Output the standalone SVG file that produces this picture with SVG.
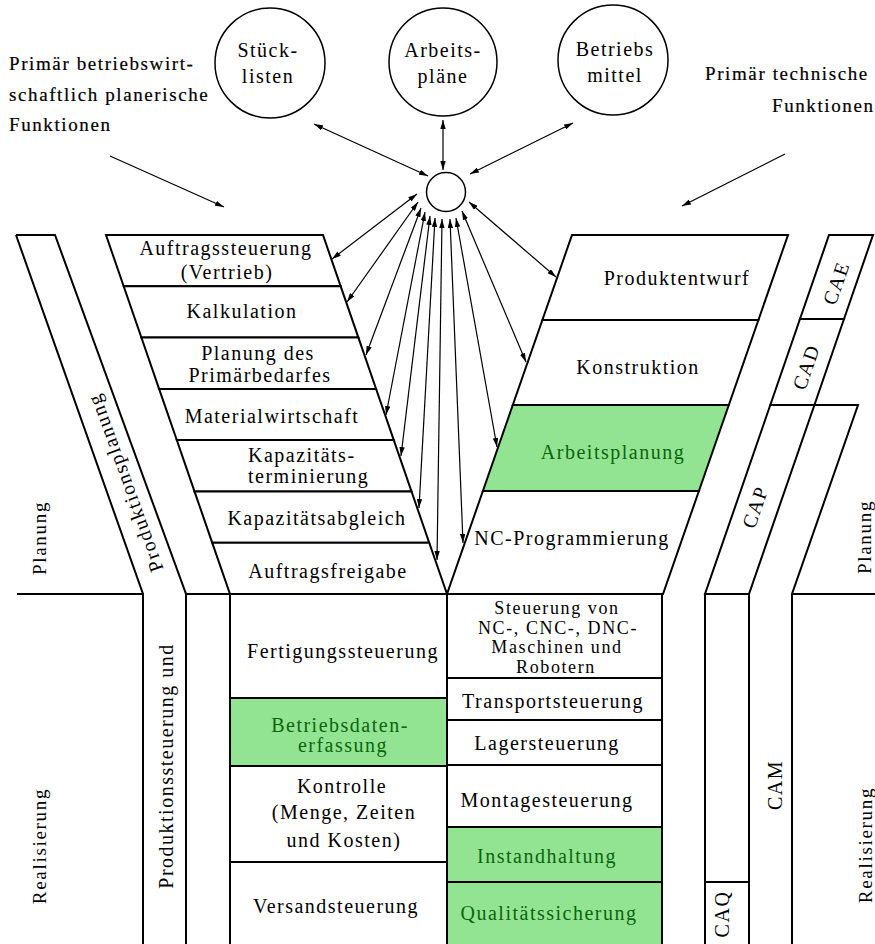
<svg xmlns="http://www.w3.org/2000/svg" width="875" height="944" viewBox="0 0 875 944">
  <style>
    .box { fill: #ffffff; stroke: #000; stroke-width: 2; }
    .grn { fill: #92e492; stroke: #000; stroke-width: 2; }
    .ln { fill: none; stroke: #000; stroke-width: 2; }
    .circ { fill: #ffffff; stroke: #000; stroke-width: 1.5; }
    .arr { fill: none; stroke: #000; stroke-width: 1.2; marker-end: url(#ah); }
    .dbl { fill: none; stroke: #000; stroke-width: 1.2; marker-start: url(#ah); marker-end: url(#ah); }
    text { font-family: "Liberation Serif", "Times New Roman", serif; font-size: 20px; letter-spacing: 1.5px; fill: #000; text-anchor: middle; }
    .g { fill: #0b650b; }
    .hd { font-size: 19px; letter-spacing: 1.6px; stroke: #000; stroke-width: 0.2; }
    .side { font-size: 19px; letter-spacing: 1.7px; }
    .sm { font-size: 18px; letter-spacing: 1.6px; }
    .st { text-anchor: start; }
    .en { text-anchor: end; }
  </style>
  <defs>
    <marker id="ah" viewBox="0 0 10 6" refX="10" refY="3" markerWidth="9" markerHeight="5.4" orient="auto-start-reverse" markerUnits="userSpaceOnUse">
      <path d="M0,0 L10,3 L0,6 z" fill="#000"/>
    </marker>
  </defs>
  <rect width="875" height="944" fill="#ffffff"/>

  <!-- header captions -->
  <g id="caption-left">
    <text class="hd st" x="9" y="70">Primär betriebswirt-</text>
    <text class="hd st" x="9" y="101">schaftlich planerische</text>
    <text class="hd st" x="9" y="131">Funktionen</text>
  </g>
  <g id="caption-right">
    <text class="hd st" x="705" y="80">Primär technische</text>
    <text class="hd st" x="772" y="112">Funktionen</text>
  </g>

  <!-- data stores -->
  <g id="stuecklisten">
    <circle class="circ" cx="270" cy="63" r="55"/>
    <text x="268" y="57">Stück-</text>
    <text x="268" y="83">listen</text>
  </g>
  <g id="arbeitsplaene">
    <circle class="circ" cx="443" cy="62" r="54"/>
    <text x="443" y="57">Arbeits-</text>
    <text x="443" y="83">pläne</text>
  </g>
  <g id="betriebsmittel">
    <circle class="circ" cx="613" cy="60" r="55"/>
    <text x="615" y="56">Betriebs</text>
    <text x="615" y="82">mittel</text>
  </g>
  <g id="hub">
    <circle class="circ" cx="446" cy="192" r="19.5"/>
  </g>

  <!-- connectors -->
  <g id="connectors">
    <line class="arr" x1="110" y1="156" x2="224" y2="207"/>
    <line class="arr" x1="785" y1="154" x2="682" y2="206"/>
    <line class="dbl" x1="314" y1="124" x2="428" y2="176"/>
    <line class="dbl" x1="443" y1="120" x2="443" y2="170"/>
    <line class="dbl" x1="573" y1="123" x2="470" y2="174"/>
    <line class="dbl" x1="417" y1="194" x2="332" y2="259"/>
    <line class="dbl" x1="418" y1="202" x2="347" y2="302"/>
    <line class="dbl" x1="421" y1="208" x2="366" y2="355"/>
    <line class="dbl" x1="425" y1="212" x2="386" y2="415"/>
    <line class="dbl" x1="430" y1="216" x2="401" y2="456"/>
    <line class="dbl" x1="435" y1="218" x2="419" y2="508"/>
    <line class="dbl" x1="442" y1="219" x2="437" y2="560"/>
    <line class="dbl" x1="450" y1="219" x2="463" y2="543"/>
    <line class="dbl" x1="456" y1="218" x2="497" y2="447"/>
    <line class="dbl" x1="462" y1="211" x2="526" y2="362"/>
    <line class="dbl" x1="469" y1="202" x2="556" y2="277"/>
  </g>

  <!-- production planning (left branch) -->
  <g id="auftragssteuerung">
    <polygon class="box" points="106,235 323,235 340.7,286.3 123.7,286.3"/>
    <text x="226" y="255">Auftragssteuerung</text>
    <text x="227" y="279">(Vertrieb)</text>
  </g>
  <g id="kalkulation">
    <polygon class="box" points="123.7,286.3 340.7,286.3 358.4,337.6 141.4,337.6"/>
    <text x="242" y="318">Kalkulation</text>
  </g>
  <g id="primaerbedarf">
    <polygon class="box" points="141.4,337.6 358.4,337.6 376.1,388.9 159.1,388.9"/>
    <text x="258" y="360">Planung des</text>
    <text x="260" y="382">Primärbedarfes</text>
  </g>
  <g id="materialwirtschaft">
    <polygon class="box" points="159.1,388.9 376.1,388.9 393.8,440.1 176.8,440.1"/>
    <text x="272" y="423">Materialwirtschaft</text>
  </g>
  <g id="kapazitaetsterminierung">
    <polygon class="box" points="176.8,440.1 393.8,440.1 411.5,491.4 194.5,491.4"/>
    <text class="st" x="248" y="462">Kapazitäts-</text>
    <text class="st" x="248" y="483">terminierung</text>
  </g>
  <g id="kapazitaetsabgleich">
    <polygon class="box" points="194.5,491.4 411.5,491.4 429.2,542.7 212.2,542.7"/>
    <text x="317" y="525">Kapazitätsabgleich</text>
  </g>
  <g id="auftragsfreigabe">
    <polygon class="box" points="212.2,542.7 429.2,542.7 447,594 230,594"/>
    <text x="328" y="578">Auftragsfreigabe</text>
  </g>

  <!-- technical planning (right branch) -->
  <g id="produktentwurf">
    <polygon class="box" points="572,235 788,235 758.4,320 542.4,320"/>
    <text x="677" y="285">Produktentwurf</text>
  </g>
  <g id="konstruktion">
    <polygon class="box" points="542.4,320 758.4,320 728.8,405 512.8,405"/>
    <text x="638" y="374">Konstruktion</text>
  </g>
  <g id="arbeitsplanung">
    <polygon class="grn" points="512.8,405 728.8,405 698.9,491 482.9,491"/>
    <text class="g" x="613" y="459">Arbeitsplanung</text>
  </g>
  <g id="nc-programmierung">
    <polygon class="box" points="482.9,491 698.9,491 663,594 447,594"/>
    <text x="572" y="545">NC-Programmierung</text>
  </g>

  <!-- realisation, left column -->
  <g id="fertigungssteuerung">
    <rect class="box" x="230" y="594" width="217" height="104"/>
    <text x="343" y="658">Fertigungssteuerung</text>
  </g>
  <g id="betriebsdatenerfassung">
    <rect class="grn" x="230" y="698" width="217" height="68"/>
    <text class="g" x="340" y="732">Betriebsdaten-</text>
    <text class="g" x="343" y="752">erfassung</text>
  </g>
  <g id="kontrolle">
    <rect class="box" x="230" y="766" width="217" height="96"/>
    <text x="342" y="793">Kontrolle</text>
    <text x="344" y="819">(Menge, Zeiten</text>
    <text x="344" y="847">und Kosten)</text>
  </g>
  <g id="versandsteuerung">
    <rect class="box" x="230" y="862" width="217" height="90"/>
    <text x="336" y="913">Versandsteuerung</text>
  </g>

  <!-- realisation, right column -->
  <g id="maschinensteuerung">
    <rect class="box" x="447" y="594" width="215" height="84"/>
    <text class="sm" x="557" y="614">Steuerung von</text>
    <text class="sm" x="558" y="633.5">NC-, CNC-, DNC-</text>
    <text class="sm" x="557" y="653">Maschinen und</text>
    <text class="sm" x="556" y="672.5">Robotern</text>
  </g>
  <g id="transportsteuerung">
    <rect class="box" x="447" y="678" width="215" height="42"/>
    <text x="553" y="708">Transportsteuerung</text>
  </g>
  <g id="lagersteuerung">
    <rect class="box" x="447" y="720" width="215" height="45"/>
    <text x="547" y="750">Lagersteuerung</text>
  </g>
  <g id="montagesteuerung">
    <rect class="box" x="447" y="765" width="215" height="62"/>
    <text x="547" y="807">Montagesteuerung</text>
  </g>
  <g id="instandhaltung">
    <rect class="grn" x="447" y="827" width="215" height="55"/>
    <text class="g" x="547" y="863">Instandhaltung</text>
  </g>
  <g id="qualitaetssicherung">
    <rect class="grn" x="447" y="882" width="215" height="70"/>
    <text class="g" x="549" y="920">Qualitätssicherung</text>
  </g>

  <!-- left band: Produktionsplanung / Produktionssteuerung -->
  <g id="pps-band">
    <path class="ln" d="M16,235 H55 L186,594 V950 M16,235 L143,594 V950"/>
    <path class="ln" d="M17,594 H143"/>
    <rect class="box" x="186" y="594" width="44" height="358"/>
    <text x="125" y="490" transform="rotate(-110 125 483)">Produktionsplanung</text>
    <text x="166" y="773" transform="rotate(-90 166 766)">Produktionssteuerung und</text>
  </g>

  <!-- right band: CAE / CAD / CAP / CAM / CAQ -->
  <g id="cae">
    <polygon class="box" points="829,235 873,235 844,319 800,319"/>
    <text x="836" y="290" transform="rotate(-70.7 836 283)">CAE</text>
  </g>
  <g id="cad">
    <polygon class="box" points="800,319 844,319 814.4,405 770.3,405"/>
    <text x="806" y="374" transform="rotate(-70.7 806 367)">CAD</text>
  </g>
  <g id="cap">
    <polygon class="box" points="770.3,405 814.4,405 749,594 705,594"/>
    <text x="755" y="514" transform="rotate(-70.7 755 507)">CAP</text>
  </g>
  <g id="cam">
    <path class="ln" d="M814.4,405 H858 L792,594 V950 M749,594 V950"/>
    <path class="ln" d="M792,594 H880"/>
    <rect class="box" x="705" y="594" width="44" height="288"/>
    <text x="775" y="792" transform="rotate(-90 775 785)">CAM</text>
  </g>
  <g id="caq">
    <rect class="box" x="705" y="882" width="44" height="70"/>
    <text x="722" y="921" transform="rotate(-90 722 914)">CAQ</text>
  </g>

  <!-- phase labels -->
  <g id="phase-labels">
    <text class="side" x="40" y="544" transform="rotate(-90 40 538)">Planung</text>
    <text class="side" x="40" y="852" transform="rotate(-90 40 846)">Realisierung</text>
    <text class="side" x="865" y="543" transform="rotate(-90 865 537)">Planung</text>
    <text class="side" x="866" y="851" transform="rotate(-90 866 845)">Realisierung</text>
  </g>
</svg>
